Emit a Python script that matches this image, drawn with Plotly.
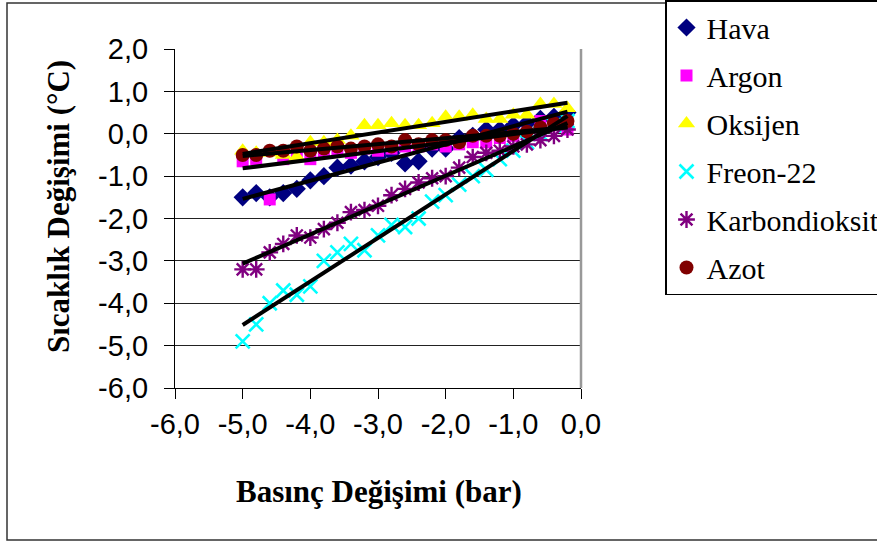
import numpy as np
import plotly.graph_objects as go

# ---- data ----
pressure = [-5.0, -4.8, -4.6, -4.4, -4.2, -4.0, -3.8, -3.6, -3.4, -3.2, -3.0, -2.8, -2.6,
            -2.4, -2.2, -2.0, -1.8, -1.6, -1.4, -1.2, -1.0, -0.8, -0.6, -0.4, -0.2]

hava = [-1.5, -1.4, -1.5, -1.4, -1.3, -1.1, -1.0, -0.8, -0.75, -0.65, -0.55, -0.45, -0.7,
        -0.65, -0.35, -0.35, -0.1, -0.05, 0.1, 0.1, 0.2, 0.25, 0.35, 0.4, 0.5]
argon = [-0.65, -0.6, -1.55, -0.6, -0.5, -0.6, -0.45, -0.4, -0.45, -0.35, -0.4, -0.35, -0.3,
         -0.3, -0.25, -0.3, -0.25, -0.2, -0.2, -0.1, -0.05, 0.0, 0.3, 0.2, 0.1]
oksijen = [-0.4, -0.45, -0.45, -0.5, -0.55, -0.2, -0.2, -0.15, -0.05, 0.2, 0.2, 0.25, 0.2,
           0.2, 0.25, 0.4, 0.4, 0.45, 0.35, 0.35, 0.45, 0.45, 0.7, 0.7, 0.6]
freon = [-4.9, -4.5, -4.0, -3.7, -3.8, -3.6, -3.0, -2.8, -2.6, -2.75, -2.4, -2.15, -2.2,
         -2.0, -1.6, -1.45, -1.2, -1.0, -0.85, -0.6, -0.4, -0.2, 0.0, 0.2, 0.3]
karbondioksit = [-3.2, -3.2, -2.8, -2.6, -2.4, -2.45, -2.25, -2.1, -1.85, -1.8, -1.7, -1.45, -1.3,
                 -1.15, -1.05, -1.0, -0.8, -0.55, -0.45, -0.4, -0.3, -0.25, -0.15, -0.05, 0.1]
azot = [-0.5, -0.5, -0.4, -0.4, -0.3, -0.4, -0.35, -0.3, -0.35, -0.3, -0.25, -0.3, -0.15,
        -0.25, -0.15, -0.15, -0.2, -0.05, -0.05, -0.05, 0.0, 0.05, 0.15, 0.25, 0.3]

series_names = ["Hava", "Argon", "Oksijen", "Freon-22", "Karbondioksit", "Azot"]
series_values = [hava, argon, oksijen, freon, karbondioksit, azot]

x_ticks = [-6, -5, -4, -3, -2, -1, 0]
x_tick_labels = ["-6,0", "-5,0", "-4,0", "-3,0", "-2,0", "-1,0", "0,0"]
y_ticks = [2, 1, 0, -1, -2, -3, -4, -5, -6]
y_tick_labels = ["2,0", "1,0", "0,0", "-1,0", "-2,0", "-3,0", "-4,0", "-5,0", "-6,0"]

x_title = "Basınç Değişimi (bar)"
y_title = "Sıcaklık Değişimi (°C)"

# ---- styles ----
styles = [
    dict(symbol="diamond", color="#000080", size=14, line=dict(width=0)),
    dict(symbol="square", color="#FF00FF", size=12, line=dict(width=0)),
    dict(symbol="triangle-up", color="#FFFF00", size=15, line=dict(width=0)),
    dict(symbol="x-thin", color="#00FFFF", size=14, line=dict(width=2.6, color="#00FFFF")),
    dict(symbol="asterisk", color="#800080", size=14, line=dict(width=2.4, color="#800080")),
    dict(symbol="circle", color="#800000", size=14, line=dict(width=0)),
]

W, H = 877, 545
L, R, T, B = 175, 581, 49, 388  # plot area in px


def px(xp):
    return (xp - L) / (R - L)


def py(yp):
    return (B - yp) / (B - T)


fig = go.Figure()
for i, (name, vals, st) in enumerate(zip(series_names, series_values, styles)):
    fig.add_trace(go.Scatter(
        x=pressure, y=vals, mode="markers", name=name, marker=st,
        legendgroup=f"g{i}", showlegend=True,
    ))

# linear trend lines (drawn on top)
xs = np.array(pressure)
for name, vals in zip(series_names, series_values):
    k, b = np.polyfit(xs, np.array(vals), 1)
    xe = np.array([xs.min(), xs.max()])
    fig.add_trace(go.Scatter(
        x=xe, y=k * xe + b, mode="lines", line=dict(color="black", width=4),
        showlegend=False, hoverinfo="skip",
    ))

tick_font = dict(family="Liberation Sans, Arial", size=29, color="black")
title_font = dict(family="Liberation Serif, Times New Roman", size=31, color="black")

fig.update_layout(
    width=W, height=H,
    margin=dict(l=L, r=W - R, t=T, b=H - B, autoexpand=False),
    paper_bgcolor="white", plot_bgcolor="white",
    showlegend=True,
    legend=dict(
        x=px(665), y=py(0), xanchor="left", yanchor="top",
        bordercolor="black", borderwidth=1.5, bgcolor="white",
        font=dict(family="Liberation Serif, Times New Roman", size=30, color="black"),
        tracegroupgap=6, traceorder="grouped", maxheight=500,
    ),
    xaxis=dict(
        range=[-6, 0], tickvals=x_ticks, ticktext=x_tick_labels,
        showgrid=False, zeroline=False, showline=True, linecolor="black", linewidth=1.2,
        ticks="outside", ticklen=10, tickcolor="black", tickwidth=1.2,
        tickfont=tick_font,
    ),
    yaxis=dict(
        range=[-6, 2], tickvals=y_ticks, ticktext=y_tick_labels,
        showgrid=True, gridcolor="#222222", gridwidth=1.2, zeroline=False,
        showline=True, linecolor="black", linewidth=1.2,
        ticks="outside", ticklen=10, tickcolor="black", tickwidth=1.2,
        tickfont=tick_font, ticklabelstandoff=10,
    ),
    shapes=[
        # outer chart border
        dict(type="rect", xref="paper", yref="paper",
             x0=px(7), x1=px(920), y0=py(540), y1=py(3),
             line=dict(color="#333333", width=1.5), layer="below"),
        # right plot-area border
        dict(type="line", xref="paper", yref="paper",
             x0=1, x1=1, y0=0, y1=1, line=dict(color="#999999", width=2.5)),
    ],
    annotations=[
        dict(text=f"<b>{x_title}</b>", xref="paper", yref="paper",
             x=px(379), y=py(492), showarrow=False, font=title_font,
             xanchor="center", yanchor="middle"),
        dict(text=f"<b>{y_title}</b>", xref="paper", yref="paper",
             x=px(58), y=py(207), showarrow=False, font=title_font, textangle=-90,
             xanchor="center", yanchor="middle"),
    ],
)

fig.write_html("out.html")
